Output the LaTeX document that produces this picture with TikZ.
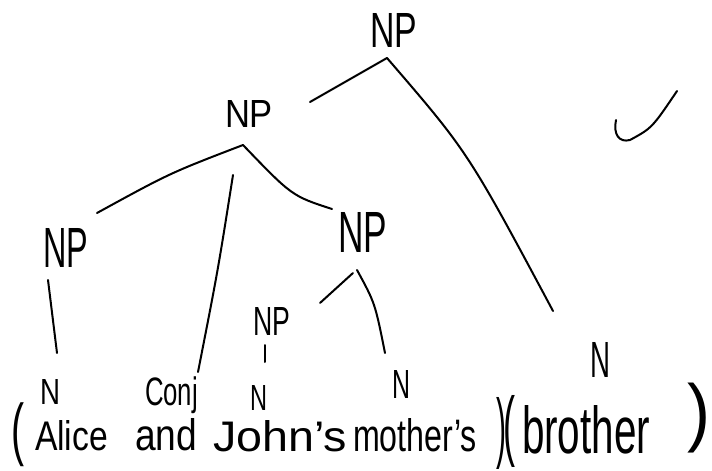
\documentclass[tikz,border=0pt]{standalone}
\usepackage{fontspec}
\setmainfont{Liberation Sans}
\usepackage{graphicx}
\newlength\pxu
\setlength\pxu{0.75pt}
\newcommand{\hw}[3]{\resizebox{#1\pxu}{#2\pxu}{#3}}
\newcommand{\hws}[3]{\resizebox*{#1\pxu}{#2\pxu}{#3}}
\begin{document}
\begin{tikzpicture}[x=0.75pt,y=-0.75pt,
  lbl/.style={anchor=north west, inner sep=0pt, outer sep=0pt},
  edge/.style={line width=1.5pt, line cap=round, line join=round}]
\useasboundingbox[fill=white] (0,0) rectangle (712,470);
% labels
\node[lbl] (np0) at (370,13) {\hw{47}{34}{NP}};
\node[lbl] (np1) at (225,100) {\hw{48}{27}{NP}};
\node[lbl] (np2) at (43,228) {\hw{45}{39}{NP}};
\node[lbl] (np3) at (338,212) {\hw{49}{40}{NP}};
\node[lbl] (np4) at (253,307) {\hw{37}{28}{NP}};
\node[lbl] (n1) at (40,379) {\hw{20}{25}{N}};
\node[lbl] (cj) at (145,377) {\hws{53}{37}{Conj}};
\node[lbl] (n2) at (250,385) {\hw{17}{25}{N}};
\node[lbl] (n3) at (392,370) {\hw{18}{28}{N}};
\node[lbl] (n4) at (590,342) {\hw{20}{35}{N}};
% sentence
\node[lbl] (lp) at (12,403) {\hws{13}{64}{(}};
\node[lbl] (w1) at (35,420) {\hw{73}{30}{Alice}};
\node[lbl] (w2) at (135,418) {\hw{62}{32}{and}};
\node[lbl] (w3) at (213,420) {\hw{134}{31}{John's}};
\node[lbl] (w4) at (353,418) {\hw{124}{33}{mother's}};
\node[lbl] (rp1) at (496,397) {\hws{10}{72}{)}};
\node[lbl] (lp2) at (503,395) {\hws{12}{72}{(}};
\node[lbl] (w5) at (522,405) {\hw{128}{48}{brother}};
\node[lbl] (rp2) at (687,383) {\hws{23}{70}{)}};
% connector end points
\coordinate (a0) at (387,58);
\coordinate (a0l) at (310,102);
\coordinate (a0r) at (553,311);
\coordinate (a1) at (243,145);
\coordinate (a1l) at (97,213);
\coordinate (a1m) at (233,175);
\coordinate (a1mb) at (198,372);
\coordinate (a1r) at (332,209);
\coordinate (a2) at (48,280);
\coordinate (a2b) at (57,353);
\coordinate (a3a) at (353,273);
\coordinate (a3l) at (320,303);
\coordinate (a3b) at (357,270);
\coordinate (a3r) at (385,353);
\coordinate (a4) at (265,345);
\coordinate (a4b) at (265,362);
% connectors
\draw[edge] (a0) -- (a0l);
\draw[edge] (a0) .. controls (468,152) .. (a0r);
\draw[edge] (a1) .. controls (170,173) .. (a1l);
\draw[edge] (a1m) .. controls (218,270) .. (a1mb);
\draw[edge] (a1) .. controls (292,196) .. (a1r);
\draw[edge] (a2) -- (a2b);
\draw[edge] (a3a) -- (a3l);
\draw[edge] (a3b) .. controls (375,303) .. (a3r);
\draw[edge] (a4) -- (a4b);
% check mark
\draw[edge] (616,120) .. controls (613,134) and (619,143) .. (630,140) .. controls (652,128) .. (677,91);
\end{tikzpicture}
\end{document}
